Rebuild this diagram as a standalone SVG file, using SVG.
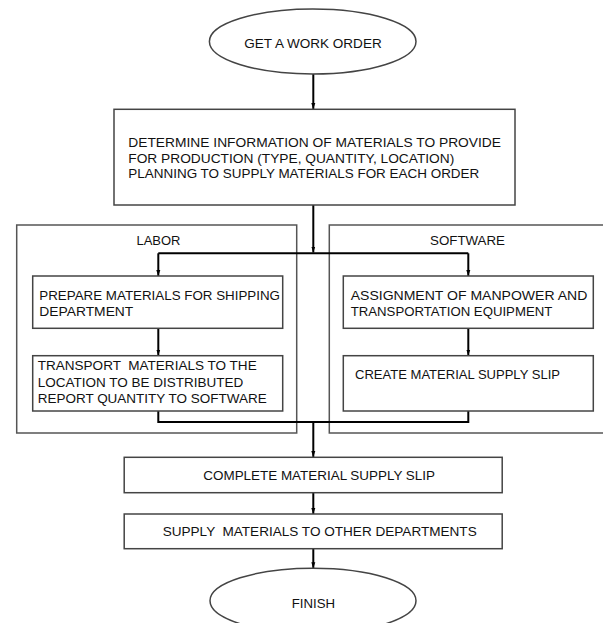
<svg xmlns="http://www.w3.org/2000/svg" width="603" height="623" viewBox="0 0 603 623">
<style>
.bg{fill:#fff}
.box{fill:#fff;stroke:#444;stroke-width:1.5}
.grp{fill:none;stroke:#555;stroke-width:1.5}
.ln{fill:none;stroke:#000;stroke-width:2}
text{font-family:"Liberation Sans",Arial,sans-serif;font-size:13.5px;fill:#111}
</style>
<defs>
<marker id="arr" markerWidth="6" markerHeight="9" refX="9" refY="3" orient="auto" markerUnits="userSpaceOnUse" viewBox="0 0 9 6">
<path d="M0,0 L9,3 L0,6 Z" fill="#000"/>
</marker>
</defs>
<rect class="bg" x="0" y="0" width="603" height="623"/>
<g id="labor-group">
<rect class="grp" x="16.7" y="225" width="280" height="208"/>
<text x="136.5" y="245" textLength="44" lengthAdjust="spacingAndGlyphs">LABOR</text>
</g>
<g id="software-group">
<rect class="grp" x="329.3" y="225" width="290" height="208"/>
<text x="430" y="245" textLength="75" lengthAdjust="spacingAndGlyphs">SOFTWARE</text>
</g>
<g id="connectors">
<path class="ln" d="M313.3,74 V109" marker-end="url(#arr)"/>
<path class="ln" d="M313.3,205 V252.5" marker-end="url(#arr)"/>
<path class="ln" d="M158.3,253.3 H468.3"/>
<path class="ln" d="M158.3,253.3 V276" marker-end="url(#arr)"/>
<path class="ln" d="M468.3,253.3 V276" marker-end="url(#arr)"/>
<path class="ln" d="M158.3,328.3 V355.5" marker-end="url(#arr)"/>
<path class="ln" d="M468.3,328.3 V355.5" marker-end="url(#arr)"/>
<path class="ln" d="M158.3,411 V422 H468.3 V411"/>
<path class="ln" d="M313.3,422 V457" marker-end="url(#arr)"/>
<path class="ln" d="M313.3,492.7 V514" marker-end="url(#arr)"/>
<path class="ln" d="M313.3,548.7 V568.3" marker-end="url(#arr)"/>
</g>
<g id="start">
<ellipse class="box" cx="312.7" cy="41.5" rx="103.3" ry="32.5"/>
<text x="244.3" y="48.3" textLength="137.4" lengthAdjust="spacingAndGlyphs">GET A WORK ORDER</text>
</g>
<g id="determine">
<rect class="box" x="114" y="109.3" width="401" height="95.7"/>
<text x="128.3" y="146.6" textLength="372.7" lengthAdjust="spacingAndGlyphs">DETERMINE INFORMATION OF MATERIALS TO PROVIDE</text>
<text x="128.3" y="162.6" textLength="326" lengthAdjust="spacingAndGlyphs">FOR PRODUCTION (TYPE, QUANTITY, LOCATION)</text>
<text x="128.3" y="178.4" textLength="351" lengthAdjust="spacingAndGlyphs">PLANNING TO SUPPLY MATERIALS FOR EACH ORDER</text>
</g>
<g id="prepare">
<rect class="box" x="32.7" y="276" width="250" height="52.3"/>
<text x="39.3" y="299.9" textLength="240.7" lengthAdjust="spacingAndGlyphs">PREPARE MATERIALS FOR SHIPPING</text>
<text x="39.3" y="315.6" textLength="94" lengthAdjust="spacingAndGlyphs">DEPARTMENT</text>
</g>
<g id="transport">
<rect class="box" x="32.7" y="355.7" width="250" height="55.3"/>
<text x="37.7" y="369.9" textLength="219" lengthAdjust="spacingAndGlyphs" xml:space="preserve">TRANSPORT  MATERIALS TO THE</text>
<text x="37.7" y="386.6" textLength="205.6" lengthAdjust="spacingAndGlyphs">LOCATION TO BE DISTRIBUTED</text>
<text x="37.7" y="402.6" textLength="229" lengthAdjust="spacingAndGlyphs">REPORT QUANTITY TO SOFTWARE</text>
</g>
<g id="assignment">
<rect class="box" x="343.3" y="276" width="250" height="52.3"/>
<text x="350.7" y="299.9" textLength="236.6" lengthAdjust="spacingAndGlyphs">ASSIGNMENT OF MANPOWER AND</text>
<text x="350.7" y="315.6" textLength="201.6" lengthAdjust="spacingAndGlyphs">TRANSPORTATION EQUIPMENT</text>
</g>
<g id="create">
<rect class="box" x="343.3" y="355.7" width="250" height="55.3"/>
<text x="355" y="379.2" textLength="205" lengthAdjust="spacingAndGlyphs">CREATE MATERIAL SUPPLY SLIP</text>
</g>
<g id="complete">
<rect class="box" x="124.2" y="457.3" width="378" height="35.4"/>
<text x="203.3" y="479.9" textLength="231.7" lengthAdjust="spacingAndGlyphs">COMPLETE MATERIAL SUPPLY SLIP</text>
</g>
<g id="supply">
<rect class="box" x="124.2" y="514" width="378" height="34.7"/>
<text x="162.7" y="535.6" textLength="314" lengthAdjust="spacingAndGlyphs" xml:space="preserve">SUPPLY  MATERIALS TO OTHER DEPARTMENTS</text>
</g>
<g id="finish">
<ellipse class="box" cx="313" cy="600.8" rx="103" ry="32.5"/>
<text x="291.7" y="607.6" textLength="43.3" lengthAdjust="spacingAndGlyphs">FINISH</text>
</g>
</svg>
